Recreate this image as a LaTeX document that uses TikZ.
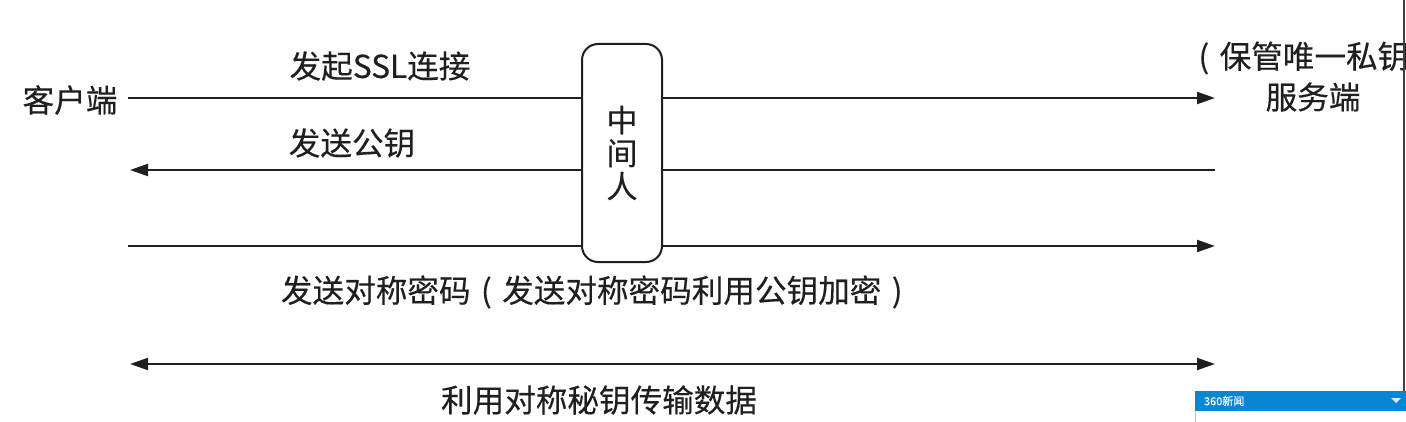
\documentclass[tikz,border=0pt]{standalone}
\usepackage{fontspec}
\newfontfamily\cjk[FakeBold=0.3]{Noto Sans CJK SC}
\usepackage{xcolor}
\usepackage{tikz}
\usetikzlibrary{arrows.meta,positioning}
\definecolor{newsblue}{RGB}{8,134,214}
\newcommand{\lp}{\makebox[1em]{(}}
\newcommand{\rp}{\makebox[1em]{)}}

\begin{document}
\begin{tikzpicture}[x=0.5pt,y=-0.5pt,line width=1pt]
\tikzstyle{every node} = [inner sep=0pt, text=black!88, font=\cjk\fontsize{15.8}{17}\selectfont]
\tikzstyle{msg} = [draw=black!88, -{Triangle[length=9pt,width=6pt]}]
\tikzstyle{both} = [draw=black!88, {Triangle[length=9pt,width=6pt]}-{Triangle[length=9pt,width=6pt]}]
\useasboundingbox (0,0) rectangle (1406,422);
\clip (0,0) rectangle (1406,422);

\node (client) at (70,100) {客户端};
\node (server) at (1313,97) {服务端};
\node[anchor=west] (key) at (1187,58) {\lp 保管唯一私钥};

\coordinate (c1) at (128,98);
\coordinate (s1) at (1215,98);
\coordinate (c2) at (130,170);
\coordinate (s2) at (1215,170);
\coordinate (c3) at (128,246);
\coordinate (s3) at (1215,246);
\coordinate (c4) at (130,364);
\coordinate (s4) at (1215,364);

\draw[msg] (c1) -- (s1);
\draw[msg] (s2) -- (c2);
\draw[msg] (c3) -- (s3);
\draw[both] (c4) -- (s4);

\node[draw=black!88, fill=white, rounded corners=8pt, minimum width=40pt,
  minimum height=109pt, align=center, font=\cjk\fontsize{15.5}{16.5}\selectfont]
  (mitm) at (622,153) {中\\间\\人};

\node (ssl) at (380,66) {发起SSL连接};
\node (pub) at (352,143) {发送公钥};
\node (sym) at (597,292) {发送对称密码\lp 发送对称密码利用公钥加密\rp};
\node (data) at (599,400) {利用对称秘钥传输数据};

% screen overlay
\draw[black!75, line width=0.7pt] (1404,0) -- (1404,391);
\fill[newsblue] (1195,391) rectangle (1406,411);
\draw[black!25, line width=0.5pt] (1195,411) -- (1195,422);
\node[anchor=west, text=white, font=\cjk\fontsize{5.5}{6}\selectfont] (news) at (1203,401) {360新闻};
\fill[white!85!newsblue] (1391,398) -- (1401,398) -- (1396,403) -- cycle;
\end{tikzpicture}
\end{document}
